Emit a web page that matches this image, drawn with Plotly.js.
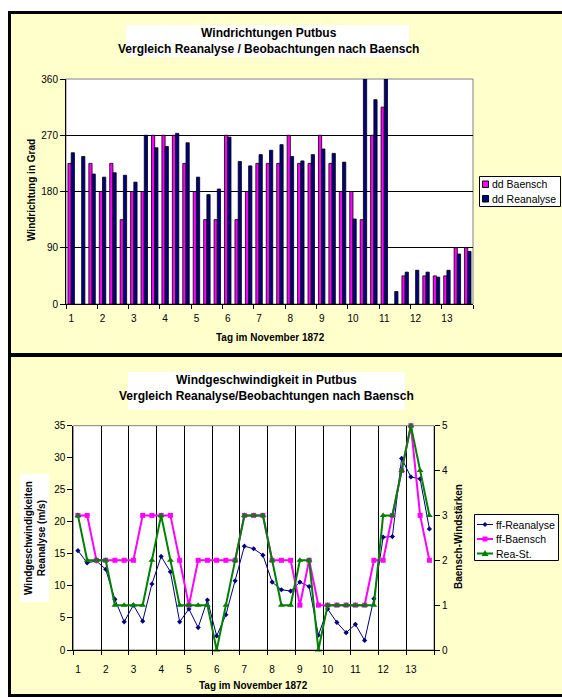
<!DOCTYPE html>
<html>
<head>
<meta charset="utf-8">
<script src="https://cdn.plot.ly/plotly-3.0.1.min.js"></script>
<style>
html,body{margin:0;padding:0;background:#fff;}
#chart{width:562px;height:698px;}
</style>
</head>
<body>
<div id="chart"></div>
<script>
// ---- Data ----
const dayLabels = ['1','2','3','4','5','6','7','8','9','10','11','12','13'];
// wind direction (degrees), 3 observations per day
const ddBaensch = [225, null, 225, 180, 225, 135, 180, 180, 270, 270, 270, 225, 180, 135, 135, 270, 135, 180, 225, 225,
                   225, 270, 225, 225, 270, 225, 180, 180, 135, 270, 315, null, 45, null, 45, 45, 45, 90, 90];
const ddReanalyse = [242, 236, 208, 203, 210, 206, 195, 270, 250, 252, 273, 258, 203, 175, 184, 267, 228, 221, 239, 246,
                     255, 236, 229, 239, 248, 241, 227, 136, 360, 327, 360, 20, 51, 54, 51, 43, 54, 80, 84];
// wind speed reanalysis (m/s)
const ffReanalyse = [15.5, 13.6, 13.9, 12.6, 7.9, 4.4, 7.0, 4.5, 10.3, 14.6, 12.2, 4.4, 6.4, 3.5, 7.8, 2.2, 5.5, 10.8, 16.2, 15.8,
                     14.8, 10.6, 9.4, 9.2, 10.6, 9.9, 2.3, 6.4, 4.3, 2.7, 4.0, 1.5, 8.0, 17.6, 17.7, 29.9, 27.0, 26.7, 18.9];
// Baensch wind force (Windstärke)
const ffBaensch = [3, 3, 2, 2, 2, 2, 2, 3, 3, 3, 3, 2, 1, 2, 2, 2, 2, 2, 3, 3,
                   3, 2, 2, 2, 1, 2, 1, 1, 1, 1, 1, 1, 2, 2, 3, 4, 5, 3, 2];
// reanalysis converted to wind force
const reaSt = [3, 2, 2, 2, 1, 1, 1, 1, 2, 3, 2, 1, 1, 1, 1, 0, 1, 2, 3, 3,
               3, 2, 1, 1, 2, 2, 0, 1, 1, 1, 1, 1, 1, 3, 3, 4, 5, 4, 3];
const obsPerDay = 3;

// ---- helpers ----
const W = 562, H = 698;
const px = v => v / W;
const py = v => 1 - v / H;
const FONT = 'Liberation Sans, Arial, sans-serif';

const xIdx = ddBaensch.map((_, i) => i);
const nObs = xIdx.length;
const labelPos = dayLabels.map((_, d) => d * obsPerDay);
const boundaryPos = [];
for (let d = 0; d <= dayLabels.length; d++) boundaryPos.push(d * obsPerDay - 0.5);

const COL_PINK = '#FF00FF', COL_NAVY = '#000080', COL_GREEN = '#008000';

const traces = [
  {type: 'bar', x: xIdx, y: ddBaensch, name: 'dd Baensch', xaxis: 'x', yaxis: 'y',
   marker: {color: COL_PINK, line: {color: '#000000', width: 0.8}}, showlegend: false},
  {type: 'bar', x: xIdx, y: ddReanalyse, name: 'dd Reanalyse', xaxis: 'x', yaxis: 'y',
   marker: {color: COL_NAVY, line: {color: '#000000', width: 0.8}}, showlegend: false},
  {type: 'scatter', mode: 'lines+markers', x: xIdx, y: ffReanalyse, name: 'ff-Reanalyse', xaxis: 'x2', yaxis: 'y2',
   line: {color: COL_NAVY, width: 1}, marker: {symbol: 'diamond', size: 4, color: COL_NAVY}, showlegend: false, cliponaxis: false},
  {type: 'scatter', mode: 'lines+markers', x: xIdx, y: ffBaensch, name: 'ff-Baensch', xaxis: 'x2', yaxis: 'y3',
   line: {color: COL_PINK, width: 2}, marker: {symbol: 'square', size: 5, color: COL_PINK}, showlegend: false, cliponaxis: false},
  {type: 'scatter', mode: 'lines+markers', x: xIdx, y: reaSt, name: 'Rea-St.', xaxis: 'x2', yaxis: 'y3',
   line: {color: COL_GREEN, width: 2}, marker: {symbol: 'triangle-up', size: 6, color: COL_GREEN}, showlegend: false, cliponaxis: false}
];

const tickFont = {family: FONT, size: 10, color: '#000'};

const layout = {
  width: W, height: H,
  margin: {l: 0, r: 0, t: 0, b: 0},
  paper_bgcolor: '#ffffff',
  plot_bgcolor: 'rgba(0,0,0,0)',
  showlegend: false,
  barmode: 'group',
  bargap: 0.38,
  bargroupgap: 0,
  font: {family: FONT, color: '#000'},
  xaxis: {
    domain: [px(66), px(473)], anchor: 'y', range: [-0.5, nObs - 0.5],
    tickmode: 'array', tickvals: labelPos, ticktext: dayLabels, ticks: '', tickfont: tickFont, ticklabelstandoff: 5,
    showgrid: false, zeroline: false, showline: true, linecolor: '#000', linewidth: 1,
    minor: {tickmode: 'array', tickvals: boundaryPos, ticks: 'outside', ticklen: 4, tickcolor: '#000', showgrid: false}
  },
  yaxis: {
    domain: [py(304), py(79)], anchor: 'x', range: [0, 360],
    tickmode: 'array', tickvals: [0, 90, 180, 270, 360], ticks: 'outside', ticklen: 5, tickcolor: '#000',
    tickfont: tickFont, showgrid: true, gridcolor: '#000', gridwidth: 1,
    zeroline: false, showline: true, linecolor: '#000', linewidth: 1
  },
  xaxis2: {
    domain: [px(73.3), px(434)], anchor: 'y2', range: [-0.5, nObs - 0.5],
    tickmode: 'array', tickvals: labelPos, ticktext: dayLabels, ticks: '', tickfont: tickFont, ticklabelstandoff: 10,
    showgrid: false, zeroline: false, showline: true, linecolor: '#000', linewidth: 1,
    minor: {tickmode: 'array', tickvals: boundaryPos, ticks: 'outside', ticklen: 4, tickcolor: '#000',
            showgrid: true, gridcolor: '#000', gridwidth: 1}
  },
  yaxis2: {
    domain: [py(650), py(425.7)], anchor: 'x2', range: [0, 35],
    tickmode: 'linear', tick0: 0, dtick: 5, ticks: 'outside', ticklen: 5, tickcolor: '#000', tickfont: tickFont,
    showgrid: false, zeroline: false, showline: true, linecolor: '#000', linewidth: 1
  },
  yaxis3: {
    domain: [py(650), py(425.7)], anchor: 'x2', overlaying: 'y2', side: 'right', range: [0, 5],
    tickmode: 'linear', tick0: 0, dtick: 1, ticks: 'outside', ticklen: 5, tickcolor: '#000', tickfont: tickFont,
    showgrid: false, zeroline: false, showline: true, linecolor: '#000', linewidth: 1
  },
  shapes: [
    // chart frames (yellow)
    {type: 'rect', xref: 'paper', yref: 'paper', x0: px(9.5), x1: 1.05, y0: py(695.5), y1: py(12.5),
     fillcolor: '#FFFFCC', line: {color: '#000', width: 3}, layer: 'below'},
    {type: 'line', xref: 'paper', yref: 'paper', x0: px(8), x1: 1.05, y0: py(355), y1: py(355),
     line: {color: '#000', width: 4}, layer: 'below'},
    // plot areas
    {type: 'rect', xref: 'paper', yref: 'paper', x0: px(66), x1: px(473), y0: py(304), y1: py(79),
     fillcolor: '#ffffff', line: {color: '#808080', width: 1}, layer: 'below'},
    {type: 'rect', xref: 'paper', yref: 'paper', x0: px(73.3), x1: px(434), y0: py(650), y1: py(425.7),
     fillcolor: '#ffffff', line: {color: '#808080', width: 1}, layer: 'below'},
    // title boxes
    {type: 'rect', xref: 'paper', yref: 'paper', x0: px(126), x1: px(409), y0: py(57), y1: py(25),
     fillcolor: '#ffffff', line: {width: 0}, layer: 'below'},
    {type: 'rect', xref: 'paper', yref: 'paper', x0: px(128), x1: px(405), y0: py(410), y1: py(372),
     fillcolor: '#ffffff', line: {width: 0}, layer: 'below'},
    // y title box (bottom)
    {type: 'rect', xref: 'paper', yref: 'paper', x0: px(20), x1: px(49), y0: py(602), y1: py(474),
     fillcolor: '#ffffff', line: {width: 0}, layer: 'below'},
    // legend 1
    {type: 'rect', xref: 'paper', yref: 'paper', x0: px(479.5), x1: px(560.5), y0: py(206.5), y1: py(176.5),
     fillcolor: '#ffffff', line: {color: '#000', width: 1}, layer: 'above'},
    {type: 'rect', xref: 'paper', yref: 'paper', x0: px(482.5), x1: px(488.5), y0: py(187.5), y1: py(181),
     fillcolor: COL_PINK, line: {color: '#000', width: 1}, layer: 'above'},
    {type: 'rect', xref: 'paper', yref: 'paper', x0: px(482.5), x1: px(488.5), y0: py(202), y1: py(195.5),
     fillcolor: COL_NAVY, line: {color: '#000', width: 1}, layer: 'above'},
    // legend 2
    {type: 'rect', xref: 'paper', yref: 'paper', x0: px(474.5), x1: px(558.5), y0: py(560.5), y1: py(514.5),
     fillcolor: '#ffffff', line: {color: '#000', width: 1}, layer: 'above'},
    {type: 'line', xref: 'paper', yref: 'paper', x0: px(477), x1: px(493), y0: py(524.5), y1: py(524.5),
     line: {color: COL_NAVY, width: 1}, layer: 'above'},
    {type: 'path', xref: 'paper', yref: 'paper',
     path: `M ${px(485)} ${py(522.5)} L ${px(487)} ${py(524.5)} L ${px(485)} ${py(526.5)} L ${px(483)} ${py(524.5)} Z`,
     fillcolor: COL_NAVY, line: {color: COL_NAVY, width: 1}, layer: 'above'},
    {type: 'line', xref: 'paper', yref: 'paper', x0: px(477), x1: px(493), y0: py(539), y1: py(539),
     line: {color: COL_PINK, width: 2}, layer: 'above'},
    {type: 'rect', xref: 'paper', yref: 'paper', x0: px(482.5), x1: px(487.5), y0: py(541.5), y1: py(536.5),
     fillcolor: COL_PINK, line: {color: COL_PINK, width: 0}, layer: 'above'},
    {type: 'line', xref: 'paper', yref: 'paper', x0: px(477), x1: px(493), y0: py(553.5), y1: py(553.5),
     line: {color: COL_GREEN, width: 2}, layer: 'above'},
    {type: 'path', xref: 'paper', yref: 'paper',
     path: `M ${px(485)} ${py(550)} L ${px(488.5)} ${py(556)} L ${px(481.5)} ${py(556)} Z`,
     fillcolor: COL_GREEN, line: {color: COL_GREEN, width: 0}, layer: 'above'}
  ],
  annotations: [
    {xref: 'paper', yref: 'paper', x: px(268), y: py(41), xanchor: 'center', yanchor: 'middle', showarrow: false,
     text: 'Windrichtungen Putbus<br>Vergleich Reanalyse / Beobachtungen nach Baensch',
     font: {family: FONT, size: 12, weight: 'bold', color: '#000'}},
    {xref: 'paper', yref: 'paper', x: px(270), y: py(337), xanchor: 'center', yanchor: 'middle', showarrow: false,
     text: 'Tag im November 1872', font: {family: FONT, size: 10, weight: 'bold', color: '#000'}},
    {xref: 'paper', yref: 'paper', x: px(31), y: py(190), xanchor: 'center', yanchor: 'middle', showarrow: false,
     textangle: -90, text: 'Windrichtung in Grad', font: {family: FONT, size: 10, weight: 'bold', color: '#000'}},
    {xref: 'paper', yref: 'paper', x: px(490), y: py(184.3), xanchor: 'left', yanchor: 'middle', showarrow: false,
     text: 'dd Baensch', font: {family: FONT, size: 10.5, color: '#000'}},
    {xref: 'paper', yref: 'paper', x: px(490), y: py(199), xanchor: 'left', yanchor: 'middle', showarrow: false,
     text: 'dd Reanalyse', font: {family: FONT, size: 10.5, color: '#000'}},

    {xref: 'paper', yref: 'paper', x: px(266), y: py(388), xanchor: 'center', yanchor: 'middle', showarrow: false,
     text: 'Windgeschwindigkeit in Putbus<br>Vergleich Reanalyse/Beobachtungen nach Baensch',
     font: {family: FONT, size: 12, weight: 'bold', color: '#000'}},
    {xref: 'paper', yref: 'paper', x: px(253), y: py(685), xanchor: 'center', yanchor: 'middle', showarrow: false,
     text: 'Tag im November 1872', font: {family: FONT, size: 10, weight: 'bold', color: '#000'}},
    {xref: 'paper', yref: 'paper', x: px(35), y: py(538), xanchor: 'center', yanchor: 'middle', showarrow: false,
     textangle: -90, text: 'Windgeschwindigkeiten<br>Reanalyse (m/s)', font: {family: FONT, size: 10, weight: 'bold', color: '#000'}},
    {xref: 'paper', yref: 'paper', x: px(458), y: py(537), xanchor: 'center', yanchor: 'middle', showarrow: false,
     textangle: -90, text: 'Baensch-Windstärken', font: {family: FONT, size: 10, weight: 'bold', color: '#000'}},
    {xref: 'paper', yref: 'paper', x: px(494), y: py(524.5), xanchor: 'left', yanchor: 'middle', showarrow: false,
     text: 'ff-Reanalyse', font: {family: FONT, size: 10.5, color: '#000'}},
    {xref: 'paper', yref: 'paper', x: px(494), y: py(539), xanchor: 'left', yanchor: 'middle', showarrow: false,
     text: 'ff-Baensch', font: {family: FONT, size: 10.5, color: '#000'}},
    {xref: 'paper', yref: 'paper', x: px(494), y: py(553.5), xanchor: 'left', yanchor: 'middle', showarrow: false,
     text: 'Rea-St.', font: {family: FONT, size: 10.5, color: '#000'}}
  ]
};

Plotly.newPlot('chart', traces, layout, {displayModeBar: false, staticPlot: true});
</script>
</body>
</html>
